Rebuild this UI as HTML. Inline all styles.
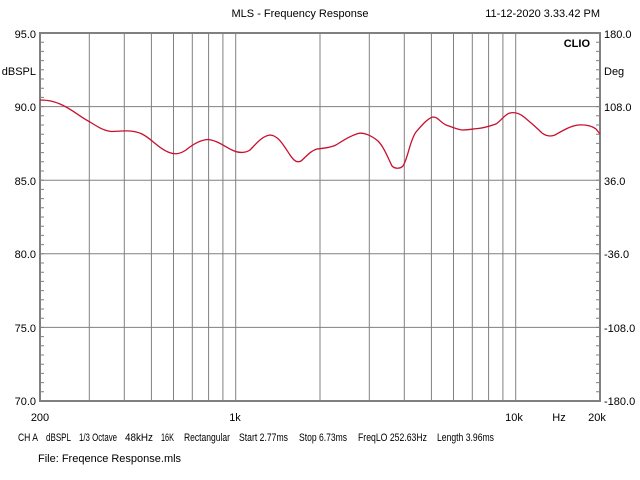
<!DOCTYPE html>
<html><head><meta charset="utf-8"><style>
html,body{margin:0;padding:0;background:#fff;}
svg{display:block;font-family:"Liberation Sans",Arial,sans-serif;font-size:11px;}
</style></head><body>
<svg width="640" height="480" xmlns="http://www.w3.org/2000/svg">
<rect width="640" height="480" fill="#fff"/>
<g stroke="#808080" stroke-width="1">
<line x1="89.3" y1="33" x2="89.3" y2="401"/>
<line x1="124.3" y1="33" x2="124.3" y2="401"/>
<line x1="151.4" y1="33" x2="151.4" y2="401"/>
<line x1="173.5" y1="33" x2="173.5" y2="401"/>
<line x1="192.3" y1="33" x2="192.3" y2="401"/>
<line x1="208.6" y1="33" x2="208.6" y2="401"/>
<line x1="222.9" y1="33" x2="222.9" y2="401"/>
<line x1="235.7" y1="33" x2="235.7" y2="401"/>
<line x1="320" y1="33" x2="320" y2="401"/>
<line x1="369.3" y1="33" x2="369.3" y2="401"/>
<line x1="404.3" y1="33" x2="404.3" y2="401"/>
<line x1="431.4" y1="33" x2="431.4" y2="401"/>
<line x1="453.5" y1="33" x2="453.5" y2="401"/>
<line x1="472.3" y1="33" x2="472.3" y2="401"/>
<line x1="488.6" y1="33" x2="488.6" y2="401"/>
<line x1="502.9" y1="33" x2="502.9" y2="401"/>
<line x1="515.7" y1="33" x2="515.7" y2="401"/>
<line x1="40" y1="106.6" x2="600" y2="106.6"/>
<line x1="40" y1="180.2" x2="600" y2="180.2"/>
<line x1="40" y1="253.8" x2="600" y2="253.8"/>
<line x1="40" y1="327.4" x2="600" y2="327.4"/>
</g>
<g stroke="#808080" stroke-width="4" stroke-dasharray="1 8.2">
<line x1="42" y1="32.5" x2="42" y2="402"/>
<line x1="598" y1="32.5" x2="598" y2="402"/>
</g>
<rect x="40" y="33" width="560" height="368" fill="none" stroke="#808080" stroke-width="2"/>
<path fill="none" stroke="#c8102e" stroke-width="1.3" d="M40,100 C50,100 55,102 60,104 C72,109 80,117 90,122 C98,127 104,131 112,131.5 L122,131 C130,130.5 136,131 142,134 C152,139 158,148 168,152 C175,155 180,154 186,150 C192,145 200,140 208,139.5 C216,140 224,146 232,150 C238,153 245,153.5 250,150 C256,144 262,136 270,135 C278,135 284,146 290,155 C294,161 297,163 301,161 C306,157 310,151 317,149 C324,148 330,148 336,145 C344,140 350,136 358,133.5 C364,132 372,136 378,141 C384,147 388,158 392,166 C395,169 400,169 403,166 C408,158 410,140 416,132 C422,125 428,118 433,117 C438,117 440,122 446,125 C452,127 456,129 462,130 C468,130 472,129 478,128.5 C484,128 490,126 496,124 C502,120 505,114 510,113 C515,112 519,113 524,117 C530,122 536,127 542,133 C546,136 550,137 555,135 C562,131 570,126 578,125 C586,124.5 592,126 596,129 L600,134"/>
<g fill="#000">
<text x="300" y="17" text-anchor="middle">MLS - Frequency Response</text>
<text x="600" y="17" text-anchor="end">11-12-2020 3.33.42 PM</text>
<text x="590" y="47" text-anchor="end" font-weight="bold">CLIO</text>
<text x="36" y="38" text-anchor="end">95.0</text>
<text x="36" y="75" text-anchor="end">dBSPL</text>
<text x="36" y="111" text-anchor="end">90.0</text>
<text x="36" y="185" text-anchor="end">85.0</text>
<text x="36" y="258" text-anchor="end">80.0</text>
<text x="36" y="332" text-anchor="end">75.0</text>
<text x="36" y="405" text-anchor="end">70.0</text>
<text x="604" y="38">180.0</text>
<text x="604" y="75">Deg</text>
<text x="604" y="111">108.0</text>
<text x="604" y="185">36.0</text>
<text x="604" y="258">-36.0</text>
<text x="604" y="332">-108.0</text>
<text x="604" y="405">-180.0</text>
<text x="40" y="421" text-anchor="middle">200</text>
<text x="235" y="421" text-anchor="middle">1k</text>
<text x="514" y="421" text-anchor="middle">10k</text>
<text x="559" y="421" text-anchor="middle">Hz</text>
<text x="597" y="421" text-anchor="middle">20k</text>
<g lengthAdjust="spacingAndGlyphs">
<text x="18" y="441" textLength="20" lengthAdjust="spacingAndGlyphs">CH A</text>
<text x="46" y="441" textLength="25" lengthAdjust="spacingAndGlyphs">dBSPL</text>
<text x="79" y="441" textLength="38" lengthAdjust="spacingAndGlyphs">1/3 Octave</text>
<text x="125" y="441" textLength="28" lengthAdjust="spacingAndGlyphs">48kHz</text>
<text x="161" y="441" textLength="13" lengthAdjust="spacingAndGlyphs">16K</text>
<text x="184" y="441" textLength="46" lengthAdjust="spacingAndGlyphs">Rectangular</text>
<text x="239" y="441" textLength="49" lengthAdjust="spacingAndGlyphs">Start 2.77ms</text>
<text x="299" y="441" textLength="48" lengthAdjust="spacingAndGlyphs">Stop 6.73ms</text>
<text x="358" y="441" textLength="69" lengthAdjust="spacingAndGlyphs">FreqLO 252.63Hz</text>
<text x="437" y="441" textLength="57" lengthAdjust="spacingAndGlyphs">Length 3.96ms</text>
</g>
<text x="38" y="462">File: Freqence Response.mls</text>
</g>
</svg>
</body></html>
